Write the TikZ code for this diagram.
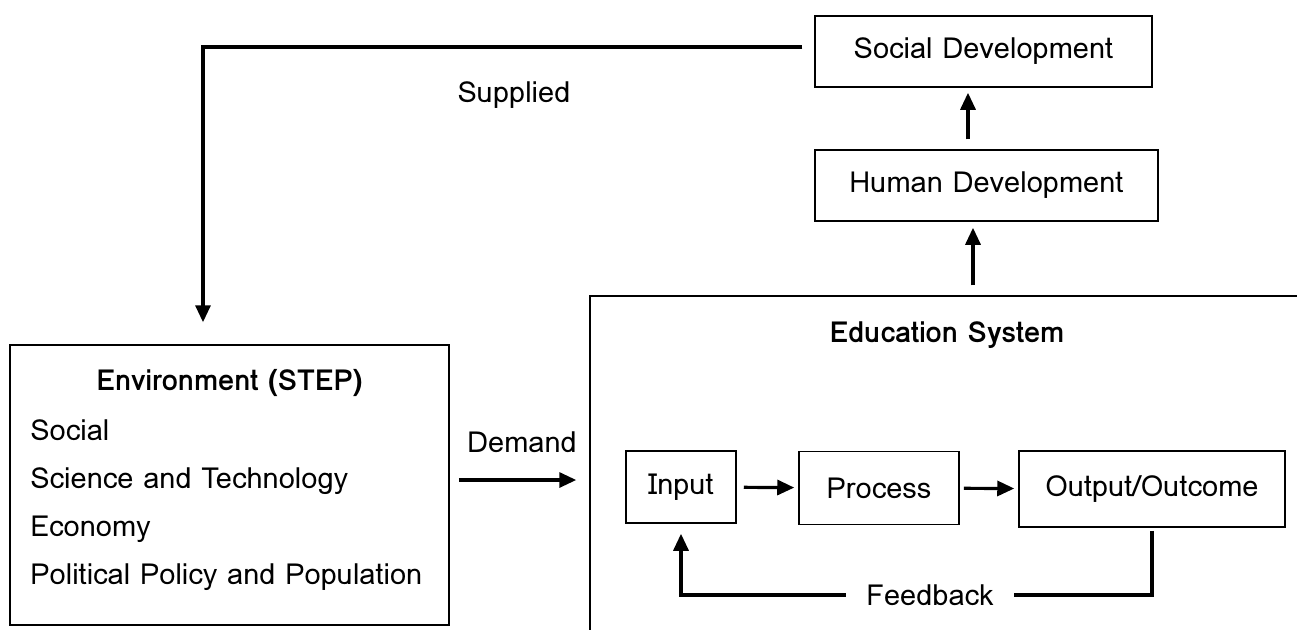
\documentclass[tikz,border=0pt]{standalone}
\usepackage{fontspec}
\setmainfont{Loma}
\usetikzlibrary{arrows.meta}
\begin{document}
\begin{tikzpicture}[x=0.5pt, y=-0.5pt,
  box/.style={draw, line width=0.75pt, shape=rectangle, inner sep=0pt, font=\fontsize{14.5}{17}\selectfont},
  lbl/.style={font=\fontsize{14.5}{17}\selectfont},
  hdr/.style={font=\fontsize{14.5}{17}\selectfont\bfseries},
  conn/.style={line width=1.6pt},
  arr/.style={conn, -{Triangle[length=8.5pt, width=7.5pt]}}]
\useasboundingbox (0,0) rectangle (1297,629);
\clip (0,0) rectangle (1297,629);
\node (sd) [box, minimum width=168.5pt, minimum height=35.5pt] at (983.5,51.5) {Social Development};
\node (hd) [box, minimum width=171.5pt, minimum height=35.5pt] at (986.5,185.5) {Human Development};
\node (es) [box, minimum width=357pt, minimum height=189pt] at (947,485) {};
\node (est) [hdr] at (947,335) {Education System};
\node (env) [box, minimum width=219.5pt, minimum height=140pt] at (229.5,485) {};
\node (envt) [hdr] at (229.5,383) {Environment (STEP)};
\node (e1) [lbl, anchor=base west, inner sep=0pt] at (30,440) {Social};
\node (e2) [lbl, anchor=base west, inner sep=0pt] at (30,488) {Science and Technology};
\node (e3) [lbl, anchor=base west, inner sep=0pt] at (30,536) {Economy};
\node (e4) [lbl, anchor=base west, inner sep=0pt] at (30,584) {Political Policy and Population};
\node (in) [box, minimum width=55pt, minimum height=36pt] at (681,487) {Input};
\node (pr) [box, minimum width=80pt, minimum height=36.5pt] at (879,488) {Process};
\node (out) [box, minimum width=133pt, minimum height=38pt] at (1152,489) {Output/Outcome};
\node (fb) [lbl, inner xsep=10pt] at (930,595) {Feedback};
\node (dm) [lbl] at (522,442) {Demand};
\node (sup) [lbl] at (514,95) {Supplied};
\draw [arr] ([shift={(-6pt,2.25pt)}]sd.west) -| ([shift={(-13.25pt,11pt)}]env.north);
\draw [arr, shorten <=4.5pt, shorten >=6.5pt] ([yshift=2.5pt]env.east) -- ([yshift=2.5pt]es.west);
\draw [arr, shorten <=5pt, shorten >=3pt] ([xshift=13pt]es.north) -- ([xshift=-6.75pt]hd.south);
\draw [arr, shorten <=5pt, shorten >=2.5pt] ([xshift=-9.25pt]hd.north) -- ([xshift=-7.75pt]sd.south);
\draw [arr, shorten <=3.5pt, shorten >=2pt] (in) -- (pr);
\draw [arr, shorten <=2pt, shorten >=2pt] (pr) -- (out);
\draw [conn] ([yshift=-1.5pt]out.south) |- (fb.east);
\draw [arr, shorten >=5pt] (fb.west) -| (in.south);
\end{tikzpicture}
\end{document}
